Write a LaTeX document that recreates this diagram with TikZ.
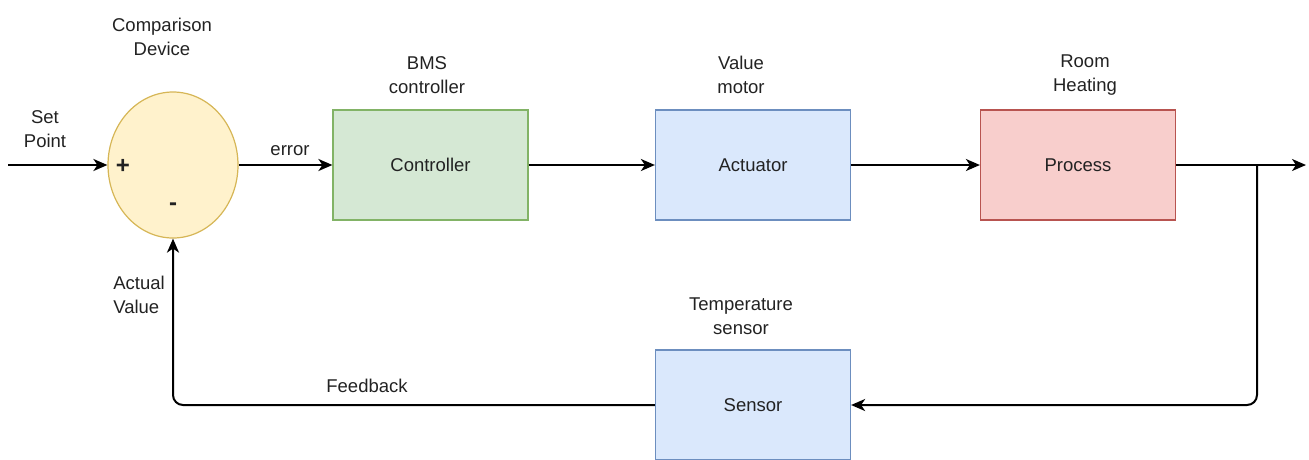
\documentclass[tikz,border=0pt]{standalone}
\usepackage{fontspec}
\setmainfont{Liberation Sans}
\usetikzlibrary{arrows.meta,shapes.geometric}
\definecolor{gfill}{HTML}{D5E8D4}\definecolor{gdraw}{HTML}{82B366}
\definecolor{bfill}{HTML}{DAE8FC}\definecolor{bdraw}{HTML}{6C8EBF}
\definecolor{rfill}{HTML}{F8CECC}\definecolor{rdraw}{HTML}{B85450}
\definecolor{yfill}{HTML}{FFF2CC}\definecolor{ydraw}{HTML}{D6B656}
\definecolor{txt}{HTML}{222222}
\begin{document}
\begin{tikzpicture}[x=1pt,y=-1pt,
  every node/.style={font=\fontsize{18.5}{23.5}\selectfont,text=txt},
  blockbox/.style={draw,line width=1.2pt,minimum width=195pt,minimum height=110pt,inner sep=0pt},
  lbl/.style={align=center,inner sep=0pt},
  conn/.style={line width=2pt,-{Stealth[length=14pt,width=12pt,inset=4pt]}}]
\useasboundingbox (0,0) rectangle (1309,459);
\begin{scope}
\clip (0,0) rectangle (1309,459);
\node[ellipse,draw=ydraw,fill=yfill,line width=1.2pt,minimum width=130pt,minimum height=146pt,inner sep=0pt] (cmp) at (173,165) {};
\node[blockbox,draw=gdraw,fill=gfill] (ctl) at (430.5,165) {Controller};
\node[blockbox,draw=bdraw,fill=bfill] (act) at (753,165) {Actuator};
\node[blockbox,draw=rdraw,fill=rfill] (proc) at (1078,165) {Process};
\node[blockbox,draw=bdraw,fill=bfill] (sens) at (753,405) {Sensor};
\end{scope}
\node[font=\bfseries\fontsize{24}{24}\selectfont,inner sep=0pt] (plus) at (123,166) {+};
\node[font=\bfseries\fontsize{24}{24}\selectfont,inner sep=0pt] (minus) at (173,207) {-};
\coordinate (sp) at (8,165);
\coordinate (out) at (1306,165);
\coordinate (br) at (1257,165);
\node[lbl] (lcmp) at (162,37) {Comparison\\Device};
\node[lbl] (lsp) at (45,129) {Set\\Point};
\node[lbl] (lerr) at (290,151) {error};
\node[lbl] (lctl) at (427,75) {BMS\\controller};
\node[lbl] (lact) at (741,75) {Value\\motor};
\node[lbl] (lproc) at (1085,75) {Room\\Heating};
\node[lbl] (lsens) at (741,316) {Temperature\\sensor};
\node[lbl] (lfb) at (367,386) {Feedback};
\node[lbl,align=left] (lav) at (139,295) {Actual\\Value};
\draw[conn] (sp) -- (cmp.west);
\draw[conn] (cmp.east) -- (ctl.west);
\draw[conn] (ctl.east) -- (act.west);
\draw[conn] (act.east) -- (proc.west);
\draw[conn] (proc.east) -- (out);
\draw[conn,rounded corners=10pt] (br) -- (1257,405) -- (sens.east);
\draw[conn,rounded corners=10pt] (sens.west) -- (cmp.south |- sens.west) -- (cmp.south);
\end{tikzpicture}
\end{document}
